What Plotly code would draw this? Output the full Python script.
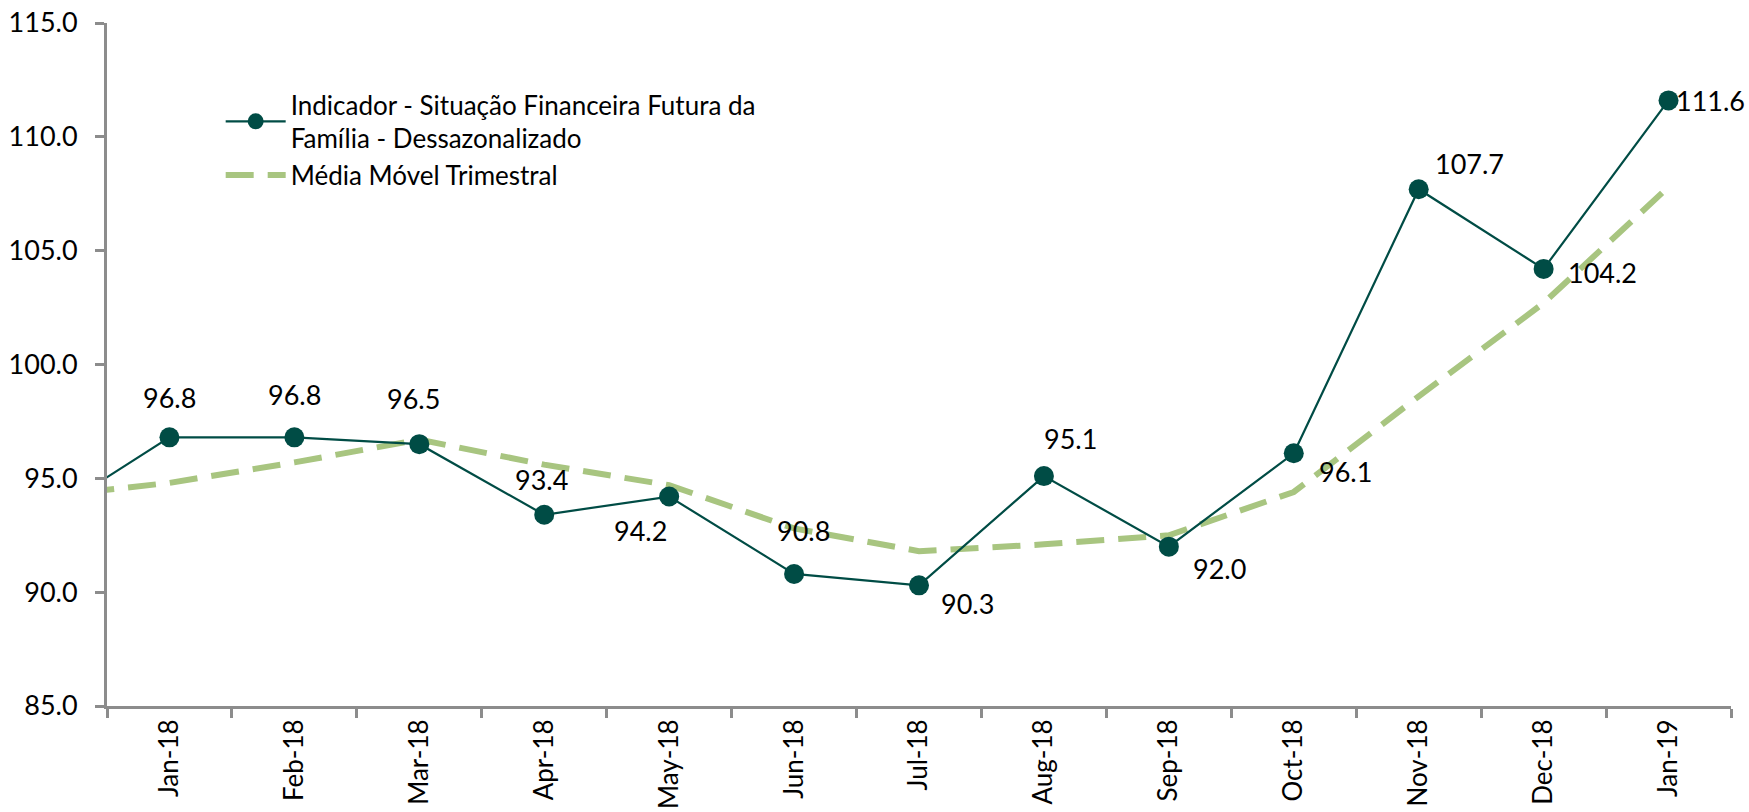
import plotly.graph_objects as go

months = ["Dec-17", "Jan-18", "Feb-18", "Mar-18", "Apr-18", "May-18", "Jun-18",
          "Jul-18", "Aug-18", "Sep-18", "Oct-18", "Nov-18", "Dec-18", "Jan-19"]
indicador = [93.3, 96.8, 96.8, 96.5, 93.4, 94.2, 90.8, 90.3, 95.1, 92.0, 96.1, 107.7, 104.2, 111.6]
media_movel = [94.2, 94.8, 95.7, 96.7, 95.6, 94.7, 92.8, 91.8, 92.1, 92.5, 94.4, 98.6, 102.7, 107.8]
y_ticks = [85, 90, 95, 100, 105, 110, 115]

# label offsets (pixels) for each data label, Jan-18 .. Jan-19
label_dx = [0, 0, -6, -3, -29, 9, 48, 27, 51, 52, 51, 59, 42]
label_dy = [40, 43, 46, 35, -34, 43, -18, 38, -22, -18, 26, -4, 0]

FONT = "Lato, Carlito, 'Open Sans', sans-serif"
DARK = "#004C45"
GREEN = "#A8C580"
AXIS = "#8C8C8C"

fig = go.Figure()
fig.add_trace(go.Scatter(
    x=months, y=media_movel, mode="lines",
    name="Média Móvel Trimestral",
    line=dict(color=GREEN, width=6, dash="28px,14px"),
))
fig.add_trace(go.Scatter(
    x=months, y=indicador, mode="lines+markers",
    name="Indicador - Situação Financeira Futura da<br>Família - Dessazonalizado",
    line=dict(color=DARK, width=2.2),
    marker=dict(color=DARK, size=20),
))

for i, (m, v) in enumerate(zip(months[1:], indicador[1:])):
    fig.add_annotation(x=m, y=v, text=f"{v:.1f}", showarrow=False,
                       xshift=label_dx[i], yshift=label_dy[i],
                       font=dict(family=FONT, size=27, color="#000000"))

fig.update_layout(
    width=1749, height=812,
    margin=dict(l=107, r=18, t=23, b=106),
    plot_bgcolor="white", paper_bgcolor="white",
    font=dict(family=FONT, size=26, color="#000000"),
    showlegend=True,
    legend=dict(x=0.07, y=0.915, xanchor="left", yanchor="top",
                traceorder="reversed", bgcolor="rgba(0,0,0,0)",
                font=dict(family=FONT, size=26), itemwidth=60),
)
fig.update_xaxes(
    type="category", range=[0.5, 13.5], automargin=False,
    tickson="boundaries", ticks="outside", ticklen=9, tickwidth=2.5, tickcolor=AXIS,
    showline=True, linecolor=AXIS, linewidth=3, showgrid=False, zeroline=False,
    tickangle=-90, tickfont=dict(family=FONT, size=26),
)
fig.update_yaxes(
    range=[85, 115], tickvals=y_ticks, tickformat=".1f", automargin=False,
    ticks="outside", ticklen=9, tickwidth=2.5, tickcolor=AXIS,
    showline=True, linecolor=AXIS, linewidth=3, showgrid=False, zeroline=False,
    ticklabelstandoff=12, tickfont=dict(family=FONT, size=27),
)

fig.write_html("out.html", config={"displayModeBar": False})

# remove the default page margin so the figure sits at the window origin
with open("out.html", encoding="utf-8") as f:
    html = f.read()
html = html.replace("<head>", "<head><style>html,body{margin:0;padding:0;overflow:hidden;}</style>", 1)
with open("out.html", "w", encoding="utf-8") as f:
    f.write(html)
